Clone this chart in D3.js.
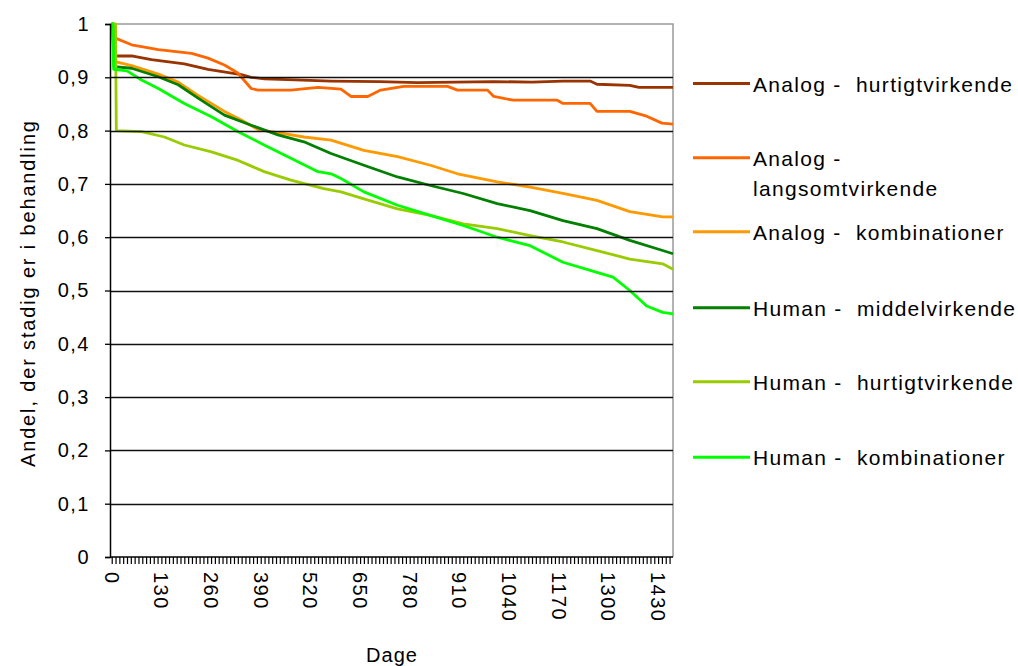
<!DOCTYPE html>
<html><head><meta charset="utf-8">
<script src="https://cdn.jsdelivr.net/npm/d3@7/dist/d3.min.js"></script>
<style>
body{margin:0;background:#fff}
svg{display:block;font-family:"Liberation Sans",Arial,sans-serif}
</style>
</head><body>
<svg id="chart" width="1018" height="666"></svg>
<script>
// ---- data (day, share still in treatment) ----
const seriesNames = [
  ["Analog -  hurtigtvirkende"],
  ["Analog -", "langsomtvirkende"],
  ["Analog -  kombinationer"],
  ["Human -  middelvirkende"],
  ["Human -  hurtigtvirkende"],
  ["Human -  kombinationer"]
];
const seriesColors = ["#993300", "#FF6600", "#FF9900", "#008000", "#99CC00", "#00FF00"];

const analogHurtig = [[0,1],[3,1],[5,0.94],[52,0.94],[104,0.933],[190,0.925],[252,0.915],[339,0.905],[365,0.9],[400,0.897],[480,0.895],[574,0.893],[700,0.892],[800,0.89],[900,0.891],[1000,0.892],[1100,0.891],[1181,0.893],[1252,0.893],[1270,0.887],[1356,0.885],[1380,0.881],[1469,0.881]];
const analogLangsom = [[0,1],[3,1],[8,0.974],[52,0.961],[122,0.952],[209,0.945],[252,0.936],[295,0.923],[330,0.908],[365,0.879],[383,0.876],[469,0.876],[540,0.881],[600,0.878],[626,0.864],[670,0.864],[704,0.876],[764,0.883],[879,0.883],[905,0.876],[983,0.876],[1000,0.864],[1051,0.857],[1166,0.857],[1181,0.851],[1252,0.851],[1270,0.836],[1356,0.836],[1400,0.827],[1440,0.814],[1469,0.812]];
const analogKombi = [[0,1],[3,1],[6,0.93],[52,0.922],[122,0.906],[174,0.891],[226,0.866],[295,0.836],[339,0.82],[383,0.802],[435,0.796],[503,0.788],[574,0.782],[660,0.763],[748,0.751],[834,0.735],[905,0.719],[1009,0.704],[1095,0.694],[1181,0.682],[1270,0.669],[1356,0.648],[1442,0.638],[1469,0.638]];
const humanMiddel = [[0,1],[3,1],[6,0.92],[52,0.917],[122,0.901],[174,0.886],[226,0.861],[295,0.829],[365,0.81],[435,0.792],[503,0.779],[574,0.757],[660,0.735],[748,0.713],[834,0.697],[920,0.682],[1009,0.663],[1095,0.65],[1181,0.631],[1270,0.616],[1356,0.594],[1442,0.575],[1469,0.569]];
const humanHurtig = [[0,1],[10,1],[12,0.8],[78,0.798],[138,0.788],[190,0.773],[261,0.76],[331,0.744],[399,0.723],[469,0.707],[555,0.691],[600,0.685],[660,0.672],[748,0.653],[834,0.641],[920,0.625],[1009,0.616],[1095,0.603],[1181,0.591],[1270,0.575],[1356,0.559],[1442,0.55],[1469,0.54]];
const humanKombi = [[0,1],[3,1],[5,0.915],[40,0.912],[78,0.895],[122,0.879],[190,0.851],[261,0.826],[331,0.798],[399,0.773],[469,0.748],[540,0.723],[574,0.719],[600,0.71],[660,0.685],[748,0.66],[834,0.641],[920,0.622],[1009,0.6],[1095,0.584],[1181,0.553],[1270,0.534],[1312,0.525],[1356,0.5],[1400,0.471],[1442,0.459],[1469,0.456]];
const seriesValues = [analogHurtig, analogLangsom, analogKombi, humanMiddel, humanHurtig, humanKombi];

const yTicks = [0,0.1,0.2,0.3,0.4,0.5,0.6,0.7,0.8,0.9,1];
const xTickLabels = [0,130,260,390,520,650,780,910,1040,1170,1300,1430];
const xMinorTicks = d3.range(0, 1470, 10);
const yTitle = "Andel, der stadig er i behandling";
const xTitle = "Dage";

// ---- layout ----
const svg = d3.select("#chart");
const L = 110, R = 673, T = 24, B = 557;
const x = d3.scaleLinear().domain([-4.5, 1469]).range([L, R]);
const y = d3.scaleLinear().domain([0, 1]).range([B, T]);

// plot border (grey, top & right)
svg.append("path")
  .attr("d", `M${L},${T}H${R}V${B}`)
  .attr("fill", "none").attr("stroke", "#9a9a9a").attr("stroke-width", 1.5);

// series
const line = d3.line().x(d => x(d[0])).y(d => y(d[1]));
const gLines = svg.append("g");
seriesValues.forEach((s, i) => {
  gLines.append("path").datum(s)
    .attr("d", line)
    .attr("fill", "none")
    .attr("stroke", seriesColors[i])
    .attr("stroke-width", 2.8)
    .attr("stroke-linejoin", "round");
});

// gridlines
svg.append("g").selectAll("line").data(yTicks.filter(v => v > 0 && v < 1)).join("line")
  .attr("x1", L).attr("x2", R)
  .attr("y1", d => Math.round(y(d)) + 0.5).attr("y2", d => Math.round(y(d)) + 0.5)
  .attr("stroke", "#111").attr("stroke-width", 1.4);

// y axis
const yAxis = d3.axisLeft(y).tickValues(yTicks).tickSize(5).tickPadding(15)
  .tickFormat(d => d3.format(".1~f")(d).replace(".", ","));
const gy = svg.append("g").attr("transform", `translate(${L},0)`).call(yAxis);
gy.select(".domain").attr("stroke", "#000").attr("stroke-width", 1.5);
gy.selectAll(".tick line").attr("stroke", "#000").attr("stroke-width", 1.3);
gy.selectAll(".tick text").attr("font-size", 20).attr("fill", "#000")
  .attr("font-family", '"Liberation Sans",Arial,sans-serif')
  .style("letter-spacing", "1.5px");

// x axis (dense minor ticks)
const xAxis = d3.axisBottom(x).tickValues(xMinorTicks).tickSize(7).tickFormat("");
const gx = svg.append("g").attr("transform", `translate(0,${B})`).call(xAxis);
gx.select(".domain").attr("stroke", "#000").attr("stroke-width", 1.5).attr("d", `M${L},0H${R}`);
gx.selectAll(".tick line").attr("stroke", "#000").attr("stroke-width", 1.2);

svg.append("g").selectAll("text").data(xTickLabels).join("text")
  .attr("transform", d => `translate(${x(d)},${572}) rotate(90)`)
  .attr("dy", "0.36em")
  .attr("font-size", 20)
  .style("letter-spacing", "1.5px")
  .attr("fill", "#000")
  .text(d => d);

// axis titles
svg.append("text")
  .attr("transform", `translate(35,294) rotate(-90)`)
  .attr("text-anchor", "middle")
  .attr("font-size", 20)
  .attr("textLength", 346)
  .attr("lengthAdjust", "spacing")
  .attr("fill", "#000")
  .text(yTitle);
svg.append("text")
  .attr("x", 392).attr("y", 662)
  .attr("text-anchor", "middle")
  .attr("font-size", 20)
  .style("letter-spacing", "1px")
  .attr("fill", "#000")
  .text(xTitle);

// legend
const legendY = [83.5, 157.7, 231.7, 307.7, 381.7, 457.3];
const lg = svg.append("g");
seriesNames.forEach((name, i) => {
  const g = lg.append("g").attr("transform", `translate(0,${legendY[i]})`);
  g.append("line").attr("x1", 693).attr("x2", 750).attr("y1", 0).attr("y2", 0)
    .attr("stroke", seriesColors[i]).attr("stroke-width", 3);
  name.forEach((t, k) => {
    g.append("text").attr("x", 753).attr("y", 8 + k * 30)
      .attr("font-size", 21)
      .style("letter-spacing", "1.3px")
      .style("white-space", "pre")
      .attr("fill", "#000")
      .text(t);
  });
});
</script>
</body></html>
